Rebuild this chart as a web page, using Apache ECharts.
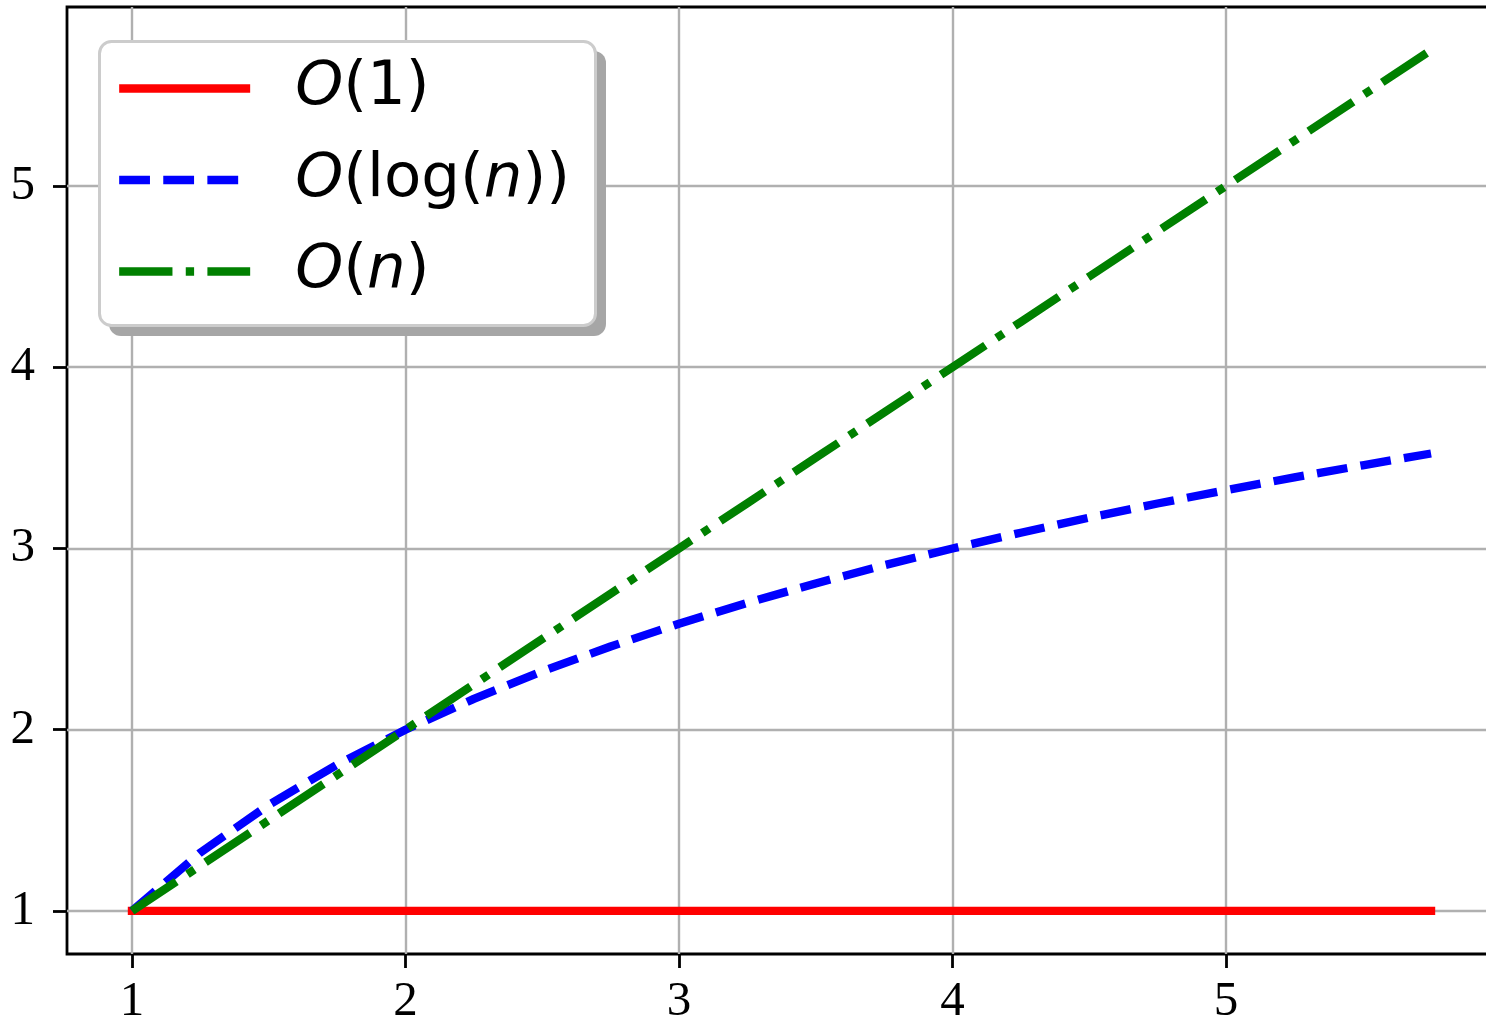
<!DOCTYPE html>
<html>
<head>
<meta charset="utf-8">
<script src="https://cdn.jsdelivr.net/npm/echarts@6/dist/echarts.min.js"></script>
<style>
html,body{margin:0;padding:0;background:#fff;}
#chart{width:1486px;height:1021px;}
</style>
</head>
<body>
<div id="chart"></div>
<script>
// ---- data ----
const nValues = [1, 1.25, 1.5, 1.75, 2, 2.25, 2.5, 2.75, 3, 3.25, 3.5, 3.75, 4, 4.25, 4.5, 4.75, 5, 5.25, 5.5, 5.75];
const constValues = [1, 1, 1, 1, 1, 1, 1, 1, 1, 1, 1, 1, 1, 1, 1, 1, 1, 1, 1, 1];
const logValues = [1, 1.322, 1.585, 1.807, 2, 2.170, 2.322, 2.459, 2.585, 2.700, 2.807, 2.907, 3, 3.087, 3.170, 3.248, 3.322, 3.392, 3.459, 3.524];
const linValues = [1, 1.25, 1.5, 1.75, 2, 2.25, 2.5, 2.75, 3, 3.25, 3.5, 3.75, 4, 4.25, 4.5, 4.75, 5, 5.25, 5.5, 5.75];
const xTicks = [1, 2, 3, 4, 5];
const yTicks = [1, 2, 3, 4, 5];
const seriesNames = ['O(1)', 'O(log(n))', 'O(n)'];

const pairs = (xs, ys) => xs.map((x, i) => [x, ys[i]]);

const LW = 8.33;
const dashBlue = [30.8, 13.3];
const dashGreen = [53.3, 13.3, 8.33, 13.3];
const legendRich = {
  'O(1)': '{i0|O}{r|(1)}',
  'O(log(n))': '{i0|O}{r|(log(}{i|n}{r|))}',
  'O(n)': '{i0|O}{r|(}{i|n}{r|)}'
};
const LFS = 61;
const richBase = {fontFamily: 'DejaVu Sans', fontSize: LFS, lineHeight: 60, color: '#000'};

const chart = echarts.init(document.getElementById('chart'), null, {renderer: 'canvas'});
chart.setOption({
  animation: false,
  backgroundColor: '#fff',
  grid: {
    left: 67, top: 7, right: -10, bottom: 67,
    show: true, borderColor: '#000', borderWidth: 2.8, backgroundColor: 'transparent',
    containLabel: false,
    outerBoundsMode: 'none'
  },
  xAxis: {
    type: 'value', min: 0.7625, max: 5.9875,
    axisLine: {show: false},
    axisTick: {show: true, length: 14, customValues: xTicks, lineStyle: {color: '#000', width: 2.8}},
    axisLabel: {customValues: xTicks, margin: 24, color: '#000', fontFamily: 'Liberation Serif', fontSize: 49},
    splitLine: {show: true, lineStyle: {color: '#b0b0b0', width: 2.4}}
  },
  yAxis: {
    type: 'value', min: 0.7625, max: 5.9875,
    axisLine: {show: false},
    axisTick: {show: true, length: 14, customValues: yTicks, lineStyle: {color: '#000', width: 2.8}},
    axisLabel: {customValues: yTicks, margin: 32, color: '#000', fontFamily: 'Liberation Serif', fontSize: 49},
    splitLine: {show: true, lineStyle: {color: '#b0b0b0', width: 2.4}}
  },
  graphic: [
    {type: 'rect', z: 10, shape: {x: 109, y: 51, width: 497, height: 285, r: 12}, style: {fill: '#a6a6a6'}},
    {type: 'rect', z: 11, shape: {x: 99.5, y: 41.5, width: 496, height: 284, r: 12}, style: {fill: '#fff', stroke: '#cccccc', lineWidth: 3}}
  ],
  legend: {
    z: 20,
    orient: 'vertical',
    left: 115, top: 58,
    padding: 0,
    itemWidth: 131, itemHeight: 1, itemGap: 30.5,
    data: [
      {name: seriesNames[0], lineStyle: {width: LW, type: 'solid', cap: 'butt'}},
      {name: seriesNames[1], lineStyle: {width: LW, type: dashBlue, cap: 'butt'}},
      {name: seriesNames[2], lineStyle: {width: LW, type: dashGreen, cap: 'butt'}}
    ],
    lineStyle: {width: LW, cap: 'butt'},
    itemStyle: {opacity: 0},
    formatter: name => legendRich[name],
    textStyle: {
      fontFamily: 'DejaVu Sans', fontSize: LFS, lineHeight: 60, color: '#000',
      rich: {
        i0: Object.assign({}, richBase, {fontStyle: 'italic', padding: [0, 0, 0, 40]}),
        i: Object.assign({}, richBase, {fontStyle: 'italic'}),
        r: Object.assign({}, richBase)
      }
    }
  },
  series: [
    {name: seriesNames[0], type: 'line', data: pairs(nValues, constValues), symbol: 'none', color: '#ff0000',
     lineStyle: {color: '#ff0000', width: LW, type: 'solid', cap: 'square'}},
    {name: seriesNames[1], type: 'line', data: pairs(nValues, logValues), symbol: 'none', color: '#0000ff',
     lineStyle: {color: '#0000ff', width: LW, type: dashBlue, cap: 'butt'}},
    {name: seriesNames[2], type: 'line', data: pairs(nValues, linValues), symbol: 'none', color: '#008000',
     lineStyle: {color: '#008000', width: LW, type: dashGreen, cap: 'butt'}}
  ]
});
</script>
</body>
</html>
